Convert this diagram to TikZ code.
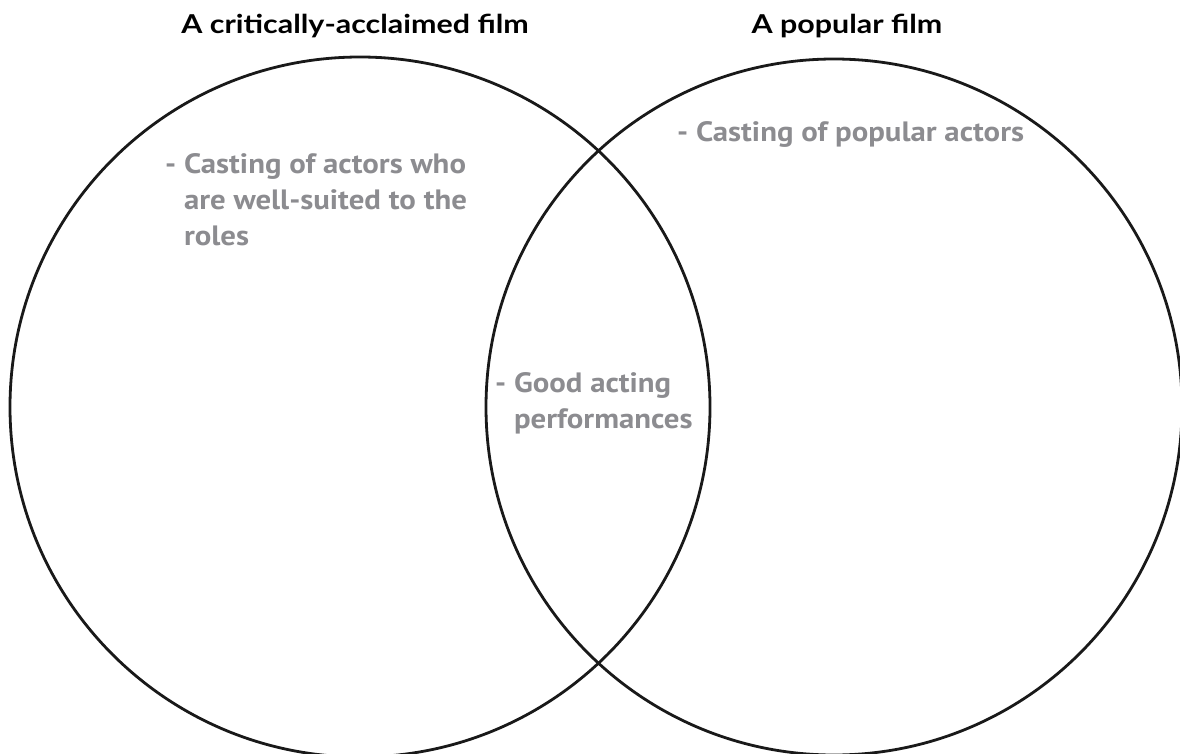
\documentclass[tikz,border=0pt]{standalone}
\usepackage{fontspec}
\setmainfont{Lato}
\newfontfamily\titlefont[FakeStretch=1.17]{Lato}
\newfontfamily\handfont[FakeStretch=1.1]{PT Sans}
\definecolor{notegray}{HTML}{8C8C90}
\newcommand{\ind}{\hphantom{- }}
\begin{document}
\begin{tikzpicture}[x=1pt,y=-1pt,
  ring/.style={draw=black!90, line width=2.8pt},
  title/.style={font=\titlefont\fontsize{26}{30}\selectfont\bfseries, anchor=base, inner sep=0pt},
  note/.style={font=\handfont\fontsize{28}{36}\selectfont\bfseries, text=notegray, anchor=base west, inner sep=0pt, align=left}]
\useasboundingbox (0,0) rectangle (1180,754);
\begin{scope}
\clip (0,0) rectangle (1180,754);
\node[ring, circle, minimum size=700pt, inner sep=0pt] (left) at (360,407) {};
\node[ring, circle, minimum size=696pt, inner sep=0pt] (right) at (834,407) {};
\end{scope}
\node[title] (t1) at (355,34) {A critically-acclaimed film};
\node[title] (t2) at (847,34) {A popular film};
\node[note] (n1) at (165,245) {- Casting of actors who\\\ind are well-suited to the\\\ind roles};
\node[note] (n2) at (677,142) {- Casting of popular actors};
\node[note] (n3) at (495,428) {- Good acting\\\ind performances};
\end{tikzpicture}
\end{document}
